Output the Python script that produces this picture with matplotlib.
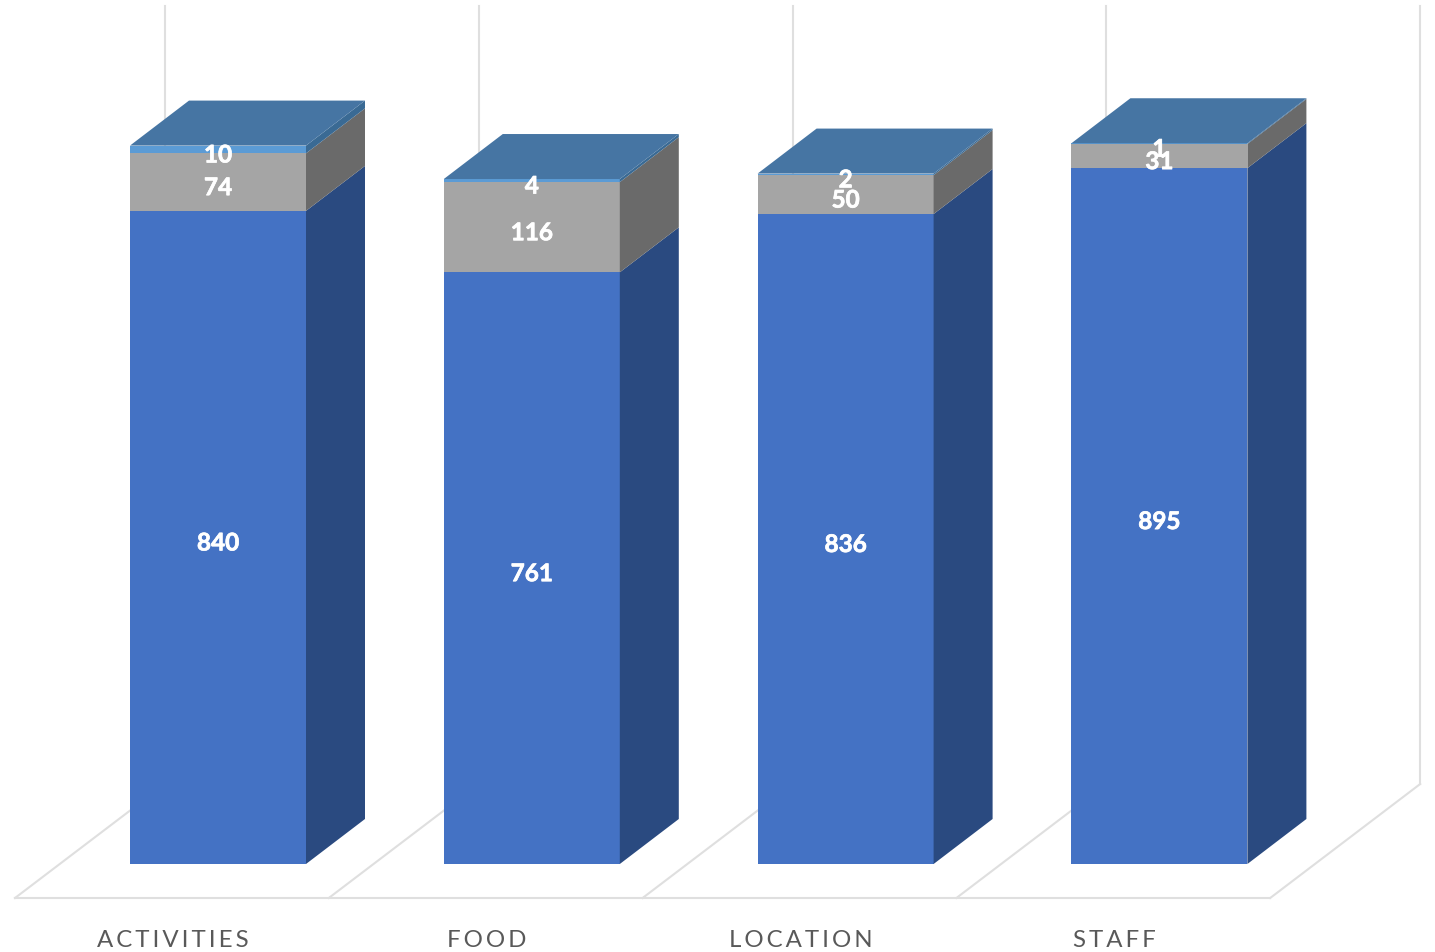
# -*- coding: utf-8 -*-
import matplotlib
matplotlib.use('Agg')
import matplotlib.pyplot as plt
import matplotlib.patheffects as path_effects
from matplotlib.patches import Polygon

# Data
categories = ['ACTIVITIES', 'FOOD', 'LOCATION', 'STAFF']
series_bottom = [840, 761, 836, 895]
series_middle = [74, 116, 50, 31]
series_top = [10, 4, 2, 1]

# Face colours per series: front, side
bottom_colors = ('#4472C4', '#2A4A80')
middle_colors = ('#A5A5A5', '#6A6A6A')
top_colors = ('#5B9BD5', '#3A6A94')
lid_color = '#4675A3'
grid_color = '#DFDFDF'
text_color = '#595959'

plt.rcParams['font.family'] = ['Lato', 'DejaVu Sans']

# Pixel scale of the picture: one category and one unit of value
px_per_cat = 313.8
px_per_val = 0.7775
fig = plt.figure(figsize=(14.35, 9.53), dpi=100)
ax = fig.add_axes([0, 0, 1, 1])
ax.set_xlim(-218 / px_per_cat, (1435 - 218) / px_per_cat)
ax.set_ylim(-(953 - 865) / px_per_val, 865 / px_per_val)
ax.axis('off')

bar_w = 176 / px_per_cat
dx = 59 / px_per_cat
dy = 45 / px_per_val
floor_y = -34 / px_per_val
floor_dx = 150 / px_per_cat
floor_dy = 114 / px_per_val
wall_top = 858 / px_per_val
first_edge = -203 / px_per_cat


def draw_block(x, y0, y1, colors, z):
    left = x - bar_w / 2
    right = x + bar_w / 2
    ax.add_patch(Polygon([(left, y0), (right, y0), (right, y1), (left, y1)],
                         facecolor=colors[0], edgecolor='none', zorder=z))
    ax.add_patch(Polygon([(right, y0), (right + dx, y0 + dy), (right + dx, y1 + dy), (right, y1)],
                         facecolor=colors[1], edgecolor='none', zorder=z))


# Floor and back wall lines
edges = [first_edge + i for i in range(len(categories) + 1)]
for edge in edges:
    ax.plot([edge, edge + floor_dx], [floor_y, floor_y + floor_dy],
            color=grid_color, lw=1.5, zorder=1)
    ax.plot([edge + floor_dx, edge + floor_dx], [floor_y + floor_dy, wall_top],
            color=grid_color, lw=1.5, zorder=1)
ax.plot([edges[0], edges[-1]], [floor_y, floor_y], color=grid_color, lw=1.5, zorder=1)

# Stacked bars
bold = [path_effects.withStroke(linewidth=0.5, foreground='white')]
for i, name in enumerate(categories):
    a = series_bottom[i]
    b = a + series_middle[i]
    c = b + series_top[i]
    draw_block(i, 0, a, bottom_colors, 2)
    draw_block(i, a, b, middle_colors, 2)
    draw_block(i, b, c, top_colors, 2)
    left = i - bar_w / 2
    right = i + bar_w / 2
    ax.add_patch(Polygon([(left, c), (right, c), (right + dx, c + dy), (left + dx, c + dy)],
                         facecolor=lid_color, edgecolor='none', zorder=3))

    label_shift = 5.5 / px_per_val
    for y0, val in [(0, a), (a, series_middle[i]), (b, series_top[i])]:
        ax.text(i, y0 + val / 2 - label_shift, str(val), color='white', fontsize=17.5,
                fontweight='bold', ha='center', va='center', zorder=5, path_effects=bold)

    # Category label, spaced out a little
    ax.text(i - 45 / px_per_cat, -76 / px_per_val, '\u200a\u200a'.join(name), color=text_color,
            fontsize=17.3, ha='center', va='center', zorder=5)

fig.savefig('out.png', dpi=100)
